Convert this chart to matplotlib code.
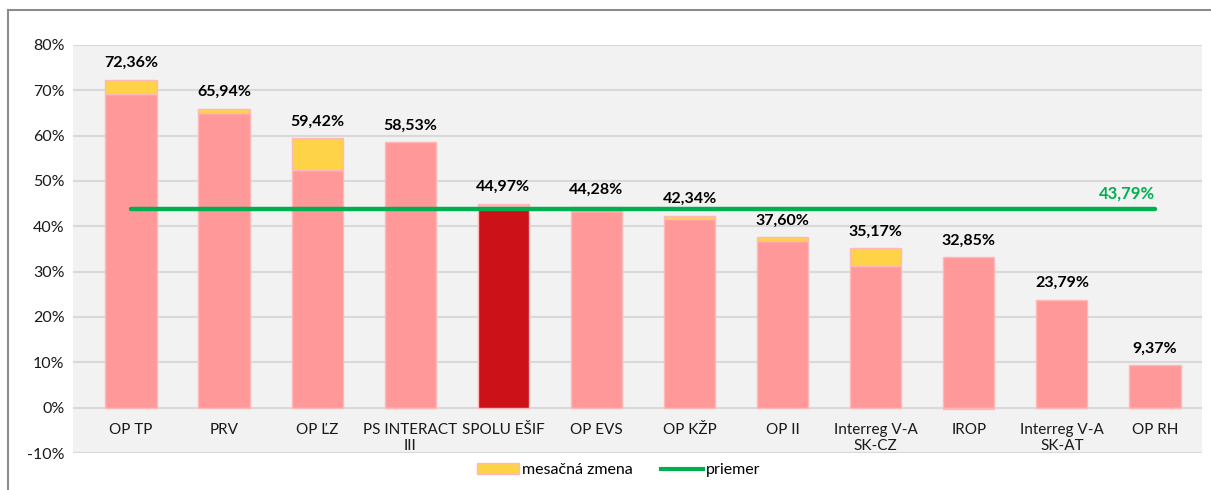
import numpy as np
import matplotlib
matplotlib.use('Agg')
import matplotlib.pyplot as plt
from matplotlib.lines import Line2D
from matplotlib.patches import Patch

plt.rcParams['font.family'] = ['Lato', 'DejaVu Sans']

# údaje
categories = ['OP TP', 'PRV', 'OP ĽZ', 'PS INTERACT\nIII', 'SPOLU EŠIF', 'OP EVS',
              'OP KŽP', 'OP II', 'Interreg V-A\nSK-CZ', 'IROP', 'Interreg V-A\nSK-AT', 'OP RH']
totals = [72.36, 65.94, 59.42, 58.53, 44.97, 44.28, 42.34, 37.60, 35.17, 32.85, 23.79, 9.37]
changes = [3.2, 1.0, 6.9, 0.0, 0.5, 0.8, 0.8, 0.9, 3.9, -0.35, 0.0, 0.0]
average = 43.79
highlight = 'SPOLU EŠIF'

pink = '#FF9999'
edge = '#FFB8B8'
yellow = '#FFD347'
darkred = '#CC1119'
green = '#00B050'

x = np.arange(len(categories))
totals = np.array(totals)
changes = np.array(changes)
base = totals - changes
ch_bottom = np.where(changes > 0, base, 0)

fig = plt.figure(figsize=(12.11, 4.9), dpi=100)
ax = fig.add_axes([73 / 1211, 1 - 453 / 490, 1129 / 1211, 408 / 490])
ax.set_facecolor('#F2F2F2')

colors = [darkred if c == highlight else pink for c in categories]
w = 0.55
ax.bar(x, base, width=w, color=colors, edgecolor=edge, linewidth=1, zorder=2)
ax.bar(x, changes, bottom=ch_bottom, width=w, color=yellow, edgecolor=edge,
       linewidth=1, zorder=2)

ax.plot([x[0], x[-1]], [average, average], color=green, lw=3.2, zorder=3,
        solid_capstyle='round')
ax.text(x[-1] - 0.3, average + 1.7, f'{average:.2f}%'.replace('.', ','),
        color=green, fontsize=12, fontweight='bold', ha='center', va='bottom')

# popisky hodnôt
for i, t in enumerate(totals):
    top = max(base[i], t)
    ax.annotate(f'{t:.2f}%'.replace('.', ','), (x[i], top), xytext=(0, 7),
                textcoords='offset points', ha='center', va='bottom',
                fontsize=11.5, fontweight='bold', color='black')

# názvy kategórií vnútri grafu
for i, c in enumerate(categories):
    ax.text(x[i], -3.3, c, ha='center', va='top', fontsize=11, color='#1a1a1a',
            linespacing=1.25)

ax.set_xlim(-0.623, 11.505)
ax.set_ylim(-10, 80)
ax.set_yticks(np.arange(-10, 81, 10))
ax.set_yticklabels([f'{v}%' for v in range(-10, 81, 10)], fontsize=11.5, color='#1a1a1a')
ax.set_xticks([])
ax.tick_params(axis='y', length=0, pad=6)
ax.grid(axis='y', color='#D9D9D9', lw=1.5, zorder=0)
ax.set_axisbelow(True)
for s in ax.spines.values():
    s.set_visible(False)

# legenda
handles = [Patch(facecolor=yellow, edgecolor=edge, label='mesačná zmena'),
           Line2D([0], [0], color=green, lw=3, label='priemer')]
fig.legend(handles=handles, loc='center', bbox_to_anchor=(0.511, 1 - 470 / 490),
           ncol=2, frameon=False, fontsize=11.5, handlelength=2.6, handletextpad=0.2,
           columnspacing=1.8)

# rám grafu
fig.add_artist(Line2D([8 / 1211, 8 / 1211], [0, 1 - 10 / 490], color='#8C8C8C', lw=1.5))
fig.add_artist(Line2D([8 / 1211, 1], [1 - 10 / 490, 1 - 10 / 490], color='#8C8C8C', lw=1.5))

fig.savefig('out.png', dpi=100)
